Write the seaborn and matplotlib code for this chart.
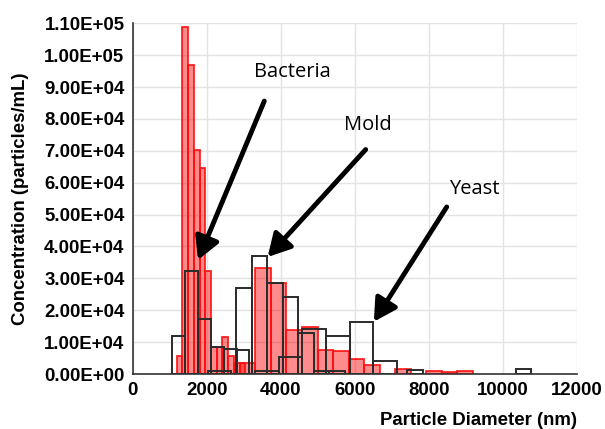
import numpy as np
import pandas as pd
import matplotlib
matplotlib.use("Agg")
import matplotlib.pyplot as plt
import seaborn as sns
from matplotlib.ticker import FuncFormatter, MultipleLocator

# Size distributions (concentration in particles/mL per diameter bin, nm)
# Fine-resolution measurement (red, filled)
bact_red_start, bact_red_width = 1180, 155
bact_red = [5700, 108700, 96900, 70200, 64500, 32200, 8600, 8600, 11500, 5500, 3400, 3400]

mold_red_start, mold_red_width = 2890, 420
mold_red = [3400, 33200, 28500, 13800, 14800, 7500, 7300, 4600, 2800, 0, 1600, 0, 1000, 500, 1000]

# Outline measurement (black, open)
bact_blk_start, bact_blk_width = 1050, 350
bact_blk = [12000, 32200, 17300, 8600, 7900, 7600]

mold_blk_start, mold_blk_width = 2790, 420
mold_blk = [27100, 37100, 28600, 24300, 12800, 1000, 1000, 0, 0, 0, 0, 1300,
            0, 0, 0, 0, 0, 0, 1500]

yeast_blk_start, yeast_blk_width = 2020, 640
yeast_blk = [1000, 0, 1000, 5200, 14100, 12000, 16200, 4200]

# Labels with arrow (text position, arrow tail, arrow head) in data units
labels = ["Bacteria", "Mold", "Yeast"]
label_xy = [(4300, 94600), (6360, 78100), (9220, 58000)]
arrow_tail = [(3550, 85600), (6290, 70400), (8480, 52400)]
arrow_head = [(1760, 35800), (3640, 36700), (6510, 16400)]

sns.set_style("white")
plt.rcParams["font.family"] = ["Liberation Sans", "DejaVu Sans"]
plt.rcParams["text.color"] = "black"
plt.rcParams["axes.labelcolor"] = "black"
plt.rcParams["xtick.color"] = "black"
plt.rcParams["ytick.color"] = "black"

fig = plt.figure(figsize=(6.05, 4.29), dpi=100)
ax = fig.add_axes([0.2197, 0.1282, 0.7340, 0.8175])


def draw_hist(start, width, values, face, edge, lw):
    values = np.asarray(values, dtype=float)
    n = len(values)
    centers = start + width * (np.arange(n) + 0.5)
    df = pd.DataFrame({"diameter": centers, "conc": values})
    before = len(ax.patches)
    sns.histplot(data=df, x="diameter", weights="conc", ax=ax, stat="count",
                 binwidth=width, binrange=(start, start + width * n),
                 element="bars", fill=True)
    for p in list(ax.patches[before:]):
        if p.get_height() <= 0:
            p.remove()
            continue
        p.set_alpha(None)
        p.set_facecolor(face)
        p.set_edgecolor(edge)
        p.set_linewidth(lw)


red_face, red_edge = (1, 0, 0, 0.45), (1, 0.05, 0.05, 0.9)
blk_face, blk_edge = "none", "#2b2b2b"

draw_hist(bact_red_start, bact_red_width, bact_red, red_face, red_edge, 1.3)
draw_hist(mold_red_start, mold_red_width, mold_red, red_face, red_edge, 1.3)
draw_hist(bact_blk_start, bact_blk_width, bact_blk, blk_face, blk_edge, 1.4)
draw_hist(mold_blk_start, mold_blk_width, mold_blk, blk_face, blk_edge, 1.4)
draw_hist(yeast_blk_start, yeast_blk_width, yeast_blk, blk_face, blk_edge, 1.4)

ax.set_xlim(0, 12000)
ax.set_ylim(0, 110000)
ax.xaxis.set_major_locator(MultipleLocator(2000))
ax.yaxis.set_major_locator(MultipleLocator(10000))
ax.yaxis.set_major_formatter(FuncFormatter(lambda v, _: f"{v:.2E}"))

ax.grid(True, color="#e3e3e3", linewidth=1.0)
ax.set_axisbelow(True)
for side in ("top", "right"):
    ax.spines[side].set_visible(False)
for side in ("left", "bottom"):
    ax.spines[side].set_color("#333333")
    ax.spines[side].set_linewidth(1.2)

ax.tick_params(axis="both", which="major", direction="out", length=4, width=1,
               color="#333333", labelsize=13.4, pad=2)
for lab in ax.get_xticklabels() + ax.get_yticklabels():
    lab.set_fontweight("bold")

ax.set_xlabel("Particle Diameter (nm)", fontsize=13.4, fontweight="bold", loc="right",
              labelpad=9)
ax.set_ylabel("Concentration (particles/mL)", fontsize=13.4, fontweight="bold",
              labelpad=11)

for text, txy, tail, head in zip(labels, label_xy, arrow_tail, arrow_head):
    ax.text(txy[0], txy[1], text, ha="center", va="center", fontsize=14.5,
            color="black", family=["Open Sans", "DejaVu Sans"])
    ax.annotate("", xy=head, xytext=tail,
                arrowprops=dict(arrowstyle="-|>,head_length=0.9,head_width=0.5",
                                color="black", lw=3.5, mutation_scale=15,
                                shrinkA=0, shrinkB=0))

fig.savefig("out.png", dpi=100)
